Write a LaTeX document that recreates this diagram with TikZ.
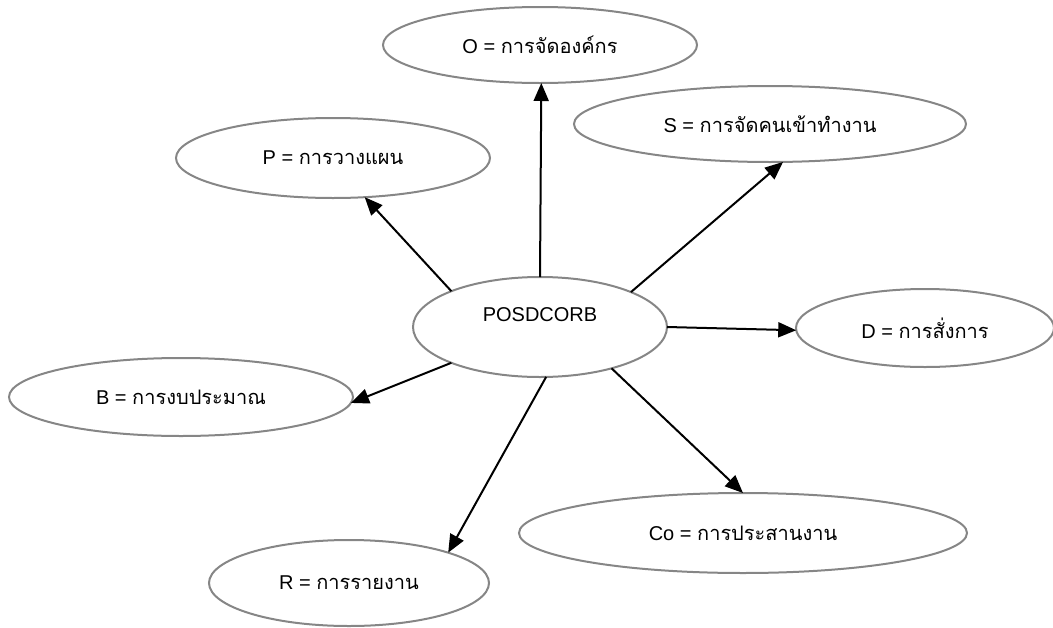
\documentclass[tikz,border=0pt]{standalone}
\usepackage{fontspec}
\setmainfont{Liberation Sans}
\newfontfamily\thaifont[Script=Thai]{Loma}
\usetikzlibrary{arrows.meta,shapes.geometric}
\definecolor{rimgray}{HTML}{868686}

\begin{document}
\begin{tikzpicture}[x=1pt,y=-1pt,->,>={Triangle[length=18pt,width=15pt]},line width=2pt,
    main node/.style={ellipse,draw=rimgray,line width=2pt,inner sep=0pt,outer sep=0pt,font=\fontsize{20}{24}\selectfont}]
    \useasboundingbox (0,0) rectangle (1053,627);

    \node[main node,minimum width=254pt,minimum height=100pt,text depth=24pt] (hub) at (540,327) {POSDCORB};
    \node[main node,minimum width=314pt,minimum height=76pt] (O) at (540,45) {O = {\thaifont การจัดองค์กร}};
    \node[main node,minimum width=392pt,minimum height=76pt] (S) at (770,124) {S = {\thaifont การจัดคนเข้าทำงาน}};
    \node[main node,minimum width=314pt,minimum height=80pt] (P) at (333,158) {P = {\thaifont การวางแผน}};
    \node[main node,minimum width=258pt,minimum height=78pt] (D) at (925,328) {D = {\thaifont การสั่งการ}};
    \node[main node,minimum width=344pt,minimum height=78pt] (B) at (181,397) {B = {\thaifont การงบประมาณ}};
    \node[main node,minimum width=448pt,minimum height=80pt] (Co) at (743,533) {Co = {\thaifont การประสานงาน}};
    \node[main node,minimum width=280pt,minimum height=86pt] (R) at (349,583) {R = {\thaifont การรายงาน}};

    \path
        (hub.90) edge (O.272)
        (hub.21) edge (S.289)
        (hub.158) edge (P.309)
        (hub.0) edge (D.181)
        (hub.202) edge (B.358)
        (hub.277) edge (R.17)
        (hub.330) edge (Co.90)
    ;

\end{tikzpicture}
\end{document}
